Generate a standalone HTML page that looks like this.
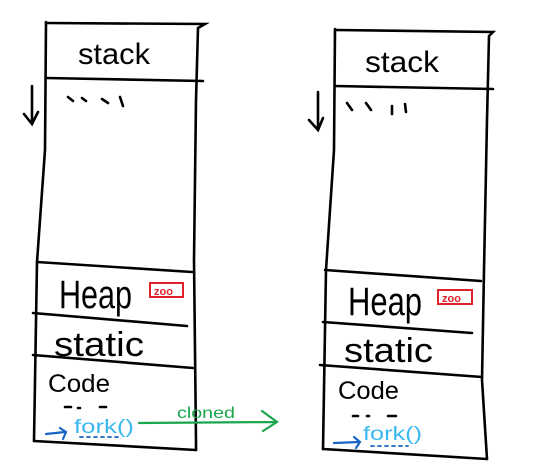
<!DOCTYPE html>
<html><head><meta charset="utf-8"><style>body{margin:0;background:#fff}svg{display:block}</style></head><body>
<svg width="547" height="466" viewBox="0 0 547 466" xmlns="http://www.w3.org/2000/svg" font-family="'Liberation Sans',sans-serif">
<g stroke="#000" stroke-width="2.6" fill="none" stroke-linecap="round">
<!-- left box -->
<path d="M46 23 L205 24 L198 28 L196 100 L194 260 L196 441 L196 450"/>
<path d="M46 22 L45 150 L37 262 L34 441"/>
<path d="M46 78 L203 81"/>
<path d="M37 262 L192 272"/>
<path d="M33 313 L187 326"/>
<path d="M33 355 L193 368"/>
<path d="M34 441 L196 450"/>
<!-- right box -->
<path d="M335 30 L493 32 L489 36 L487 120 L484 270 L482 380 L487 459"/>
<path d="M335 29 L334 150 L326 270 L323 449"/>
<path d="M335 86 L493 89"/>
<path d="M325 270 L481 281"/>
<path d="M323 322 L472 333"/>
<path d="M320 365 L482 377"/>
<path d="M323 449 L487 459"/>
<!-- down arrows -->
<path d="M32 86 L32 124 M24 114 L32 124 L38 112"/>
<path d="M318 92 L318 130 M309 120 L318 130 L323 118"/>
<!-- ticks -->
<path d="M68 97 L73 101 M82 98 L86 101 M102 99 L108 103 M120 97 L123 106"/>
<path d="M347 103 L352 110 M366 103 L371 110 M392 106 L392 114 M405 104 L406 112"/>
<!-- dots -->
<path d="M65 407 L71 407 M78 408 L80 408 M100 407 L106 407"/>
<path d="M353 416 L358 416 M367 416 L369 416 M388 416 L396 416"/>
</g>
<g font-size="30" fill="#000">
<text x="78" y="64" textLength="72" lengthAdjust="spacingAndGlyphs">stack</text>
<text x="365" y="72" textLength="74" lengthAdjust="spacingAndGlyphs">stack</text>
<text x="59" y="308" font-size="40" textLength="73" lengthAdjust="spacingAndGlyphs">Heap</text>
<text x="348" y="315" font-size="40" textLength="74" lengthAdjust="spacingAndGlyphs">Heap</text>
<text x="54" y="356" font-size="34" textLength="90" lengthAdjust="spacingAndGlyphs">static</text>
<text x="344" y="362" font-size="34" textLength="89" lengthAdjust="spacingAndGlyphs">static</text>
<text x="48" y="392" font-size="25" textLength="62" lengthAdjust="spacingAndGlyphs">Code</text>
<text x="338" y="399" font-size="25" textLength="61" lengthAdjust="spacingAndGlyphs">Code</text>
</g>
<!-- red boxes -->
<g stroke="#e0202a" stroke-width="2" fill="none">
<rect x="150" y="283" width="33" height="14"/>
<rect x="438" y="290" width="34" height="14"/>
</g>
<text x="154" y="295" font-size="11" font-weight="bold" fill="#e0202a">zoo</text>
<text x="442" y="302" font-size="11" font-weight="bold" fill="#e0202a">zoo</text>
<!-- fork -->
<g fill="#3bb8f0" font-size="19">
<text x="74" y="433" textLength="60" lengthAdjust="spacingAndGlyphs">fork()</text>
<text x="363" y="440" textLength="59" lengthAdjust="spacingAndGlyphs">fork()</text>
</g>
<g stroke="#1a66c8" stroke-width="2.2" fill="none" stroke-linecap="round">
<path d="M46 434 L65 432 M60 428 L66 432 L63 439"/>
<path d="M334 443 L359 442 M354 437 L360 442 L356 448"/>
<path d="M80 437 L120 437" stroke-dasharray="3 4" stroke-width="1.8"/>
<path d="M371 446 L408 446" stroke-dasharray="3 4" stroke-width="1.8"/>
</g>
<!-- green arrow -->
<g stroke="#1aa64c" stroke-width="2.2" fill="none" stroke-linecap="round">
<path d="M139 423 L277 422 M262 411 L277 422 L263 431"/>
</g>
<text x="177" y="418" font-size="16" fill="#1aa64c" textLength="58" lengthAdjust="spacingAndGlyphs">cloned</text>
</svg>
</body></html>
